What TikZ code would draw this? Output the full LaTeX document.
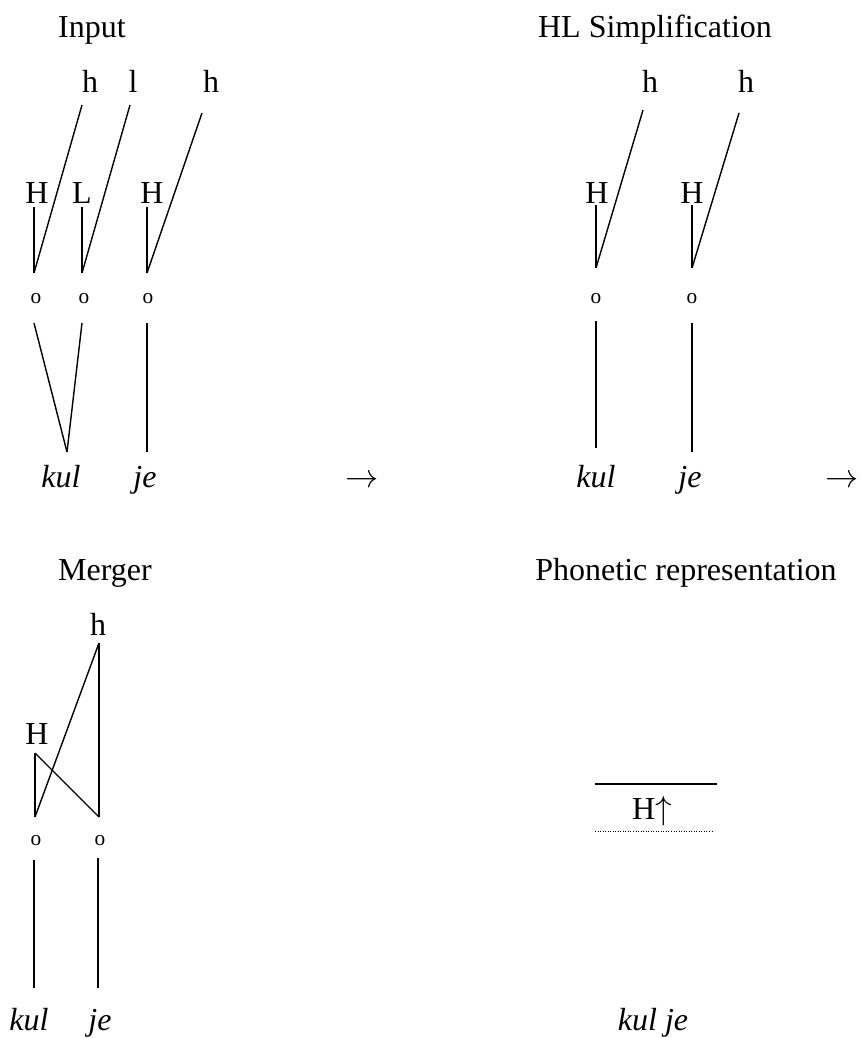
\documentclass[tikz,border=0pt]{standalone}
\usepackage{fontspec}
\setmainfont{Liberation Serif}
\begin{document}
\begin{tikzpicture}[x=0.75pt,y=-0.75pt,
  lbl/.style={anchor=base,inner sep=0pt,font=\fontsize{24}{28}\selectfont},
  wrd/.style={lbl,font=\fontsize{24}{28}\selectfont\itshape},
  syl/.style={anchor=base,inner sep=0pt,font=\fontsize{16}{18}\selectfont},
  assoc/.style={line width=1.05pt},
  level/.style={line width=1.2pt},
  dotlevel/.style={line width=0.7pt,dash pattern=on 0.7pt off 1.2pt}]
\useasboundingbox (0,0) rectangle (861,1038);

% ---------- Input ----------
\node[lbl] (tInput) at (92,38) {Input};
\node[lbl] (ih1) at (90,93) {h};
\node[lbl] (il)  at (133,93) {l};
\node[lbl] (ih2) at (211,93) {h};
\node[lbl] (iH1) at (37,203) {H};
\node[lbl] (iL)  at (82,203) {L};
\node[lbl] (iH2) at (152,203) {H};
\node[syl] (io1) at (36,303) {o};
\node[syl] (io2) at (84,303) {o};
\node[syl] (io3) at (148,303) {o};
\node[wrd] (ikul) at (61,487) {kul};
\node[wrd] (ije) at (145,487) {je};
\node[lbl] (arr1) at (362,487) {$\rightarrow$};
\coordinate (ih1b) at (82,105);
\coordinate (ilb) at (130,105);
\coordinate (ih2b) at (202,113);
\coordinate (iH1b) at (34,207);
\coordinate (iLb) at (82,207);
\coordinate (iH2b) at (147,207);
\coordinate (io1t) at (34,273);
\coordinate (io2t) at (82,273);
\coordinate (io3t) at (147,273);
\coordinate (io1b) at (34,323);
\coordinate (io2b) at (82,323);
\coordinate (io3b) at (147,323);
\coordinate (ikult) at (67,452);
\coordinate (ijet) at (147,452);
\draw[assoc] (iH1b) -- (io1t);
\draw[assoc] (ih1b) -- (io1t);
\draw[assoc] (iLb) -- (io2t);
\draw[assoc] (ilb) -- (io2t);
\draw[assoc] (iH2b) -- (io3t);
\draw[assoc] (ih2b) -- (io3t);
\draw[assoc] (io1b) -- (ikult);
\draw[assoc] (io2b) -- (ikult);
\draw[assoc] (io3b) -- (ijet);

% ---------- HL Simplification ----------
\node[lbl] (tHL) at (655,38) {HL Simplification};
\node[lbl] (sh1) at (650,93) {h};
\node[lbl] (sh2) at (746,93) {h};
\node[lbl] (sH1) at (597,203) {H};
\node[lbl] (sH2) at (692,203) {H};
\node[syl] (so1) at (596,303) {o};
\node[syl] (so2) at (692,303) {o};
\node[wrd] (skul) at (596,487) {kul};
\node[wrd] (sje) at (690,487) {je};
\node[lbl] (arr2) at (842,487) {$\rightarrow$};
\coordinate (sh1b) at (643,110);
\coordinate (sh2b) at (739,113);
\coordinate (sH1b) at (596,205);
\coordinate (sH2b) at (692,205);
\coordinate (so1t) at (596,268);
\coordinate (so2t) at (692,268);
\coordinate (so1b) at (596,321);
\coordinate (so2b) at (692,323);
\coordinate (skult) at (596,448);
\coordinate (sjet) at (692,452);
\draw[assoc] (sH1b) -- (so1t);
\draw[assoc] (sh1b) -- (so1t);
\draw[assoc] (sH2b) -- (so2t);
\draw[assoc] (sh2b) -- (so2t);
\draw[assoc] (so1b) -- (skult);
\draw[assoc] (so2b) -- (sjet);

% ---------- Merger ----------
\node[lbl] (tMer) at (105,580) {Merger};
\node[lbl] (mh) at (98,635) {h};
\node[lbl] (mH) at (37,744) {H};
\node[syl] (mo1) at (36,845) {o};
\node[syl] (mo2) at (100,845) {o};
\node[wrd] (mkul) at (29,1030) {kul};
\node[wrd] (mje) at (100,1030) {je};
\coordinate (mhb) at (99,643);
\coordinate (mHb) at (35,753);
\coordinate (mo1t) at (35,817);
\coordinate (mo2t) at (99,817);
\coordinate (mo1b) at (34,860);
\coordinate (mo2b) at (98,858);
\coordinate (mkult) at (34,988);
\coordinate (mjet) at (98,988);
\draw[assoc] (mHb) -- (mo1t);
\draw[assoc] (mHb) -- (mo2t);
\draw[assoc] (mhb) -- (mo2t);
\draw[assoc] (mhb) -- (mo1t);
\draw[assoc] (mo1b) -- (mkult);
\draw[assoc] (mo2b) -- (mjet);

% ---------- Phonetic representation ----------
\node[lbl] (tPh) at (686,580) {Phonetic representation};
\coordinate (topL) at (595,784);
\coordinate (topR) at (717,784);
\coordinate (botL) at (595,831);
\coordinate (botR) at (712,831);
\draw[level] (topL) -- (topR);
\node[lbl] (pH) at (652,819) {H$\uparrow$};
\draw[dotlevel] (botL) -- (botR);
\node[wrd] (pkj) at (653,1030) {kul je};
\end{tikzpicture}
\end{document}
